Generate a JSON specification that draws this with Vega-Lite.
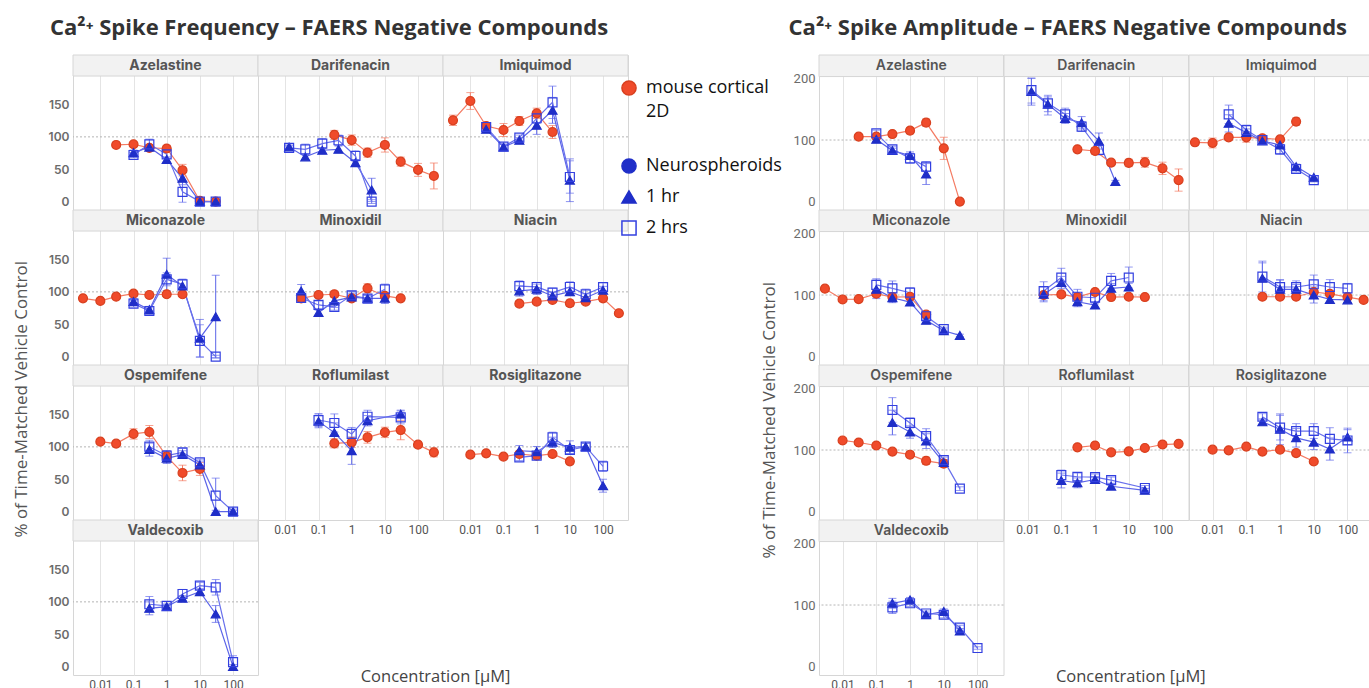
{
 "$schema": "https://vega.github.io/schema/vega-lite/v6.json",
 "background": "white",
 "padding": {"left": 13, "top": 17, "right": 0, "bottom": 0},
 "config": {
  "view": {"stroke": "#d6d6d6", "strokeWidth": 1},
  "font": "Open Sans",
  "header": {"labels": false, "title": null, "labelFontSize": 0, "labelPadding": 0, "titlePadding": 0},
  "style": {"guide-label": {"lineHeight": 24}},
  "axisY": {"labelFont": "Inter", "labelFontWeight": 600, "labelFontSize": 12, "labelColor": "#6b6b6b", "labelPadding": 4},
  "axisX": {"labelFont": "Liberation Sans Narrow, Roboto", "labelFontSize": 12, "labelColor": "#555", "gridColor": "#e4e4e4", "labelPadding": 4},
  "legend": {"orient": "none", "legendX": 547, "legendY": 24, "title": null, "symbolSize": 200, "symbolStrokeWidth": 1.5, "labelFont": "Open Sans", "labelFontSize": 18, "labelColor": "#111", "rowPadding": 10, "labelOffset": 8}
 },
 "datasets": {
  "freq": [
   {"c":"Azelastine","s":"mouse cortical 2D","x":0.03,"y":87.5,"lo":84.5,"hi":90.5},
   {"c":"Azelastine","s":"mouse cortical 2D","x":0.1,"y":88.6,"lo":84.6,"hi":92.6},
   {"c":"Azelastine","s":"mouse cortical 2D","x":0.3,"y":83,"lo":79,"hi":87},
   {"c":"Azelastine","s":"mouse cortical 2D","x":1,"y":82,"lo":77,"hi":87},
   {"c":"Azelastine","s":"mouse cortical 2D","x":3,"y":48.5,"lo":39.5,"hi":57.5},
   {"c":"Azelastine","s":"mouse cortical 2D","x":10,"y":1,"lo":-1,"hi":3},
   {"c":"Azelastine","s":"mouse cortical 2D","x":30,"y":0,"lo":-2,"hi":2},
   {"c":"Azelastine","s":"1 hr","x":0.1,"y":75.6,"lo":71.6,"hi":79.6},
   {"c":"Azelastine","s":"1 hr","x":0.3,"y":84,"lo":80,"hi":88},
   {"c":"Azelastine","s":"1 hr","x":1,"y":65,"lo":61,"hi":69},
   {"c":"Azelastine","s":"1 hr","x":3,"y":36,"lo":26,"hi":46},
   {"c":"Azelastine","s":"1 hr","x":10,"y":0,"lo":-1,"hi":1},
   {"c":"Azelastine","s":"1 hr","x":30,"y":0,"lo":-1,"hi":1},
   {"c":"Azelastine","s":"2 hrs","x":0.1,"y":72,"lo":68,"hi":76},
   {"c":"Azelastine","s":"2 hrs","x":0.3,"y":88.5,"lo":80.5,"hi":96.5},
   {"c":"Azelastine","s":"2 hrs","x":1,"y":73,"lo":67,"hi":79},
   {"c":"Azelastine","s":"2 hrs","x":3,"y":15,"lo":-1,"hi":31},
   {"c":"Azelastine","s":"2 hrs","x":10,"y":0,"lo":-2,"hi":2},
   {"c":"Azelastine","s":"2 hrs","x":30,"y":0,"lo":-2,"hi":2},
   {"c":"Darifenacin","s":"1 hr","x":0.013,"y":84.4,"lo":81.4,"hi":87.4},
   {"c":"Darifenacin","s":"1 hr","x":0.04,"y":69,"lo":65,"hi":73},
   {"c":"Darifenacin","s":"1 hr","x":0.13,"y":79.3,"lo":75.3,"hi":83.3},
   {"c":"Darifenacin","s":"1 hr","x":0.4,"y":80.8,"lo":75.8,"hi":85.8},
   {"c":"Darifenacin","s":"1 hr","x":1.3,"y":60,"lo":55,"hi":65},
   {"c":"Darifenacin","s":"1 hr","x":4,"y":18,"lo":0,"hi":36},
   {"c":"Darifenacin","s":"2 hrs","x":0.013,"y":83,"lo":80,"hi":86},
   {"c":"Darifenacin","s":"2 hrs","x":0.04,"y":80.8,"lo":72.8,"hi":88.8},
   {"c":"Darifenacin","s":"2 hrs","x":0.13,"y":89.5,"lo":81.5,"hi":97.5},
   {"c":"Darifenacin","s":"2 hrs","x":0.4,"y":94.7,"lo":86.7,"hi":102.7},
   {"c":"Darifenacin","s":"2 hrs","x":1.3,"y":70.5,"lo":62.5,"hi":78.5},
   {"c":"Darifenacin","s":"2 hrs","x":4,"y":0,"lo":-3,"hi":3},
   {"c":"Darifenacin","s":"mouse cortical 2D","x":0.3,"y":103,"lo":96,"hi":110},
   {"c":"Darifenacin","s":"mouse cortical 2D","x":1,"y":95,"lo":87,"hi":103},
   {"c":"Darifenacin","s":"mouse cortical 2D","x":3,"y":75.6,"lo":68.6,"hi":82.6},
   {"c":"Darifenacin","s":"mouse cortical 2D","x":10,"y":87.5,"lo":76.5,"hi":98.5},
   {"c":"Darifenacin","s":"mouse cortical 2D","x":30,"y":61.7,"lo":54.7,"hi":68.7},
   {"c":"Darifenacin","s":"mouse cortical 2D","x":100,"y":49,"lo":39,"hi":59},
   {"c":"Darifenacin","s":"mouse cortical 2D","x":300,"y":39.6,"lo":19.6,"hi":59.6},
   {"c":"Imiquimod","s":"mouse cortical 2D","x":0.003,"y":125.6,"lo":117.6,"hi":133.6},
   {"c":"Imiquimod","s":"mouse cortical 2D","x":0.01,"y":155.4,"lo":142.4,"hi":168.4},
   {"c":"Imiquimod","s":"mouse cortical 2D","x":0.03,"y":116.8,"lo":111.8,"hi":121.8},
   {"c":"Imiquimod","s":"mouse cortical 2D","x":0.1,"y":110.6,"lo":100.6,"hi":120.6},
   {"c":"Imiquimod","s":"mouse cortical 2D","x":0.3,"y":124.5,"lo":117.5,"hi":131.5},
   {"c":"Imiquimod","s":"mouse cortical 2D","x":1,"y":136.4,"lo":128.4,"hi":144.4},
   {"c":"Imiquimod","s":"mouse cortical 2D","x":3,"y":107.5,"lo":97.5,"hi":117.5},
   {"c":"Imiquimod","s":"1 hr","x":0.03,"y":111.7,"lo":106.7,"hi":116.7},
   {"c":"Imiquimod","s":"1 hr","x":0.1,"y":84.4,"lo":80.4,"hi":88.4},
   {"c":"Imiquimod","s":"1 hr","x":0.3,"y":94.7,"lo":90.7,"hi":98.7},
   {"c":"Imiquimod","s":"1 hr","x":1,"y":117.9,"lo":103.9,"hi":131.9},
   {"c":"Imiquimod","s":"1 hr","x":3,"y":141,"lo":121,"hi":161},
   {"c":"Imiquimod","s":"1 hr","x":10,"y":33,"lo":0,"hi":66},
   {"c":"Imiquimod","s":"2 hrs","x":0.03,"y":115.3,"lo":110.3,"hi":120.3},
   {"c":"Imiquimod","s":"2 hrs","x":0.1,"y":85,"lo":81,"hi":89},
   {"c":"Imiquimod","s":"2 hrs","x":0.3,"y":98.8,"lo":94.8,"hi":102.8},
   {"c":"Imiquimod","s":"2 hrs","x":1,"y":128.7,"lo":120.7,"hi":136.7},
   {"c":"Imiquimod","s":"2 hrs","x":3,"y":153.4,"lo":128.4,"hi":178.4},
   {"c":"Imiquimod","s":"2 hrs","x":10,"y":38,"lo":13,"hi":63},
   {"c":"Miconazole","s":"mouse cortical 2D","x":0.003,"y":90,"lo":87,"hi":93},
   {"c":"Miconazole","s":"mouse cortical 2D","x":0.01,"y":86,"lo":83,"hi":89},
   {"c":"Miconazole","s":"mouse cortical 2D","x":0.03,"y":92.6,"lo":89.6,"hi":95.6},
   {"c":"Miconazole","s":"mouse cortical 2D","x":0.1,"y":97.2,"lo":93.2,"hi":101.2},
   {"c":"Miconazole","s":"mouse cortical 2D","x":0.3,"y":95.2,"lo":92.2,"hi":98.2},
   {"c":"Miconazole","s":"mouse cortical 2D","x":1,"y":96.3,"lo":93.3,"hi":99.3},
   {"c":"Miconazole","s":"mouse cortical 2D","x":3,"y":96.3,"lo":93.3,"hi":99.3},
   {"c":"Miconazole","s":"1 hr","x":0.1,"y":84.9,"lo":79.9,"hi":89.9},
   {"c":"Miconazole","s":"1 hr","x":0.3,"y":72.5,"lo":67.5,"hi":77.5},
   {"c":"Miconazole","s":"1 hr","x":1,"y":127,"lo":102,"hi":152},
   {"c":"Miconazole","s":"1 hr","x":3,"y":109,"lo":99,"hi":119},
   {"c":"Miconazole","s":"1 hr","x":10,"y":28.4,"lo":-0.6,"hi":57.4},
   {"c":"Miconazole","s":"1 hr","x":30,"y":61.7,"lo":-2,"hi":125.7},
   {"c":"Miconazole","s":"2 hrs","x":0.1,"y":81.8,"lo":76.8,"hi":86.8},
   {"c":"Miconazole","s":"2 hrs","x":0.3,"y":70.5,"lo":65.5,"hi":75.5},
   {"c":"Miconazole","s":"2 hrs","x":1,"y":119.4,"lo":109.4,"hi":129.4},
   {"c":"Miconazole","s":"2 hrs","x":3,"y":111.7,"lo":103.7,"hi":119.7},
   {"c":"Miconazole","s":"2 hrs","x":10,"y":24.2,"lo":-0.8,"hi":49.2},
   {"c":"Miconazole","s":"2 hrs","x":30,"y":0,"lo":-2,"hi":2},
   {"c":"Minoxidil","s":"mouse cortical 2D","x":0.03,"y":90,"lo":87,"hi":93},
   {"c":"Minoxidil","s":"mouse cortical 2D","x":0.1,"y":95.2,"lo":91.2,"hi":99.2},
   {"c":"Minoxidil","s":"mouse cortical 2D","x":0.3,"y":96.3,"lo":91.3,"hi":101.3},
   {"c":"Minoxidil","s":"mouse cortical 2D","x":1,"y":90,"lo":86,"hi":94},
   {"c":"Minoxidil","s":"mouse cortical 2D","x":3,"y":105.5,"lo":98.5,"hi":112.5},
   {"c":"Minoxidil","s":"mouse cortical 2D","x":10,"y":93.7,"lo":88.7,"hi":98.7},
   {"c":"Minoxidil","s":"mouse cortical 2D","x":30,"y":90,"lo":87,"hi":93},
   {"c":"Minoxidil","s":"1 hr","x":0.03,"y":101.4,"lo":91.4,"hi":111.4},
   {"c":"Minoxidil","s":"1 hr","x":0.1,"y":68,"lo":64,"hi":72},
   {"c":"Minoxidil","s":"1 hr","x":0.3,"y":86,"lo":76,"hi":96},
   {"c":"Minoxidil","s":"1 hr","x":1,"y":92,"lo":86,"hi":98},
   {"c":"Minoxidil","s":"1 hr","x":3,"y":90,"lo":85,"hi":95},
   {"c":"Minoxidil","s":"1 hr","x":10,"y":90,"lo":82,"hi":98},
   {"c":"Minoxidil","s":"2 hrs","x":0.03,"y":90.6,"lo":85.6,"hi":95.6},
   {"c":"Minoxidil","s":"2 hrs","x":0.1,"y":79.8,"lo":73.8,"hi":85.8},
   {"c":"Minoxidil","s":"2 hrs","x":0.3,"y":76.7,"lo":71.7,"hi":81.7},
   {"c":"Minoxidil","s":"2 hrs","x":1,"y":94.7,"lo":88.7,"hi":100.7},
   {"c":"Minoxidil","s":"2 hrs","x":3,"y":89.5,"lo":84.5,"hi":94.5},
   {"c":"Minoxidil","s":"2 hrs","x":10,"y":104,"lo":96,"hi":112},
   {"c":"Niacin","s":"mouse cortical 2D","x":0.3,"y":81.8,"lo":77.8,"hi":85.8},
   {"c":"Niacin","s":"mouse cortical 2D","x":1,"y":84.9,"lo":80.9,"hi":88.9},
   {"c":"Niacin","s":"mouse cortical 2D","x":3,"y":87.5,"lo":83.5,"hi":91.5},
   {"c":"Niacin","s":"mouse cortical 2D","x":10,"y":82.4,"lo":77.4,"hi":87.4},
   {"c":"Niacin","s":"mouse cortical 2D","x":30,"y":84.9,"lo":80.9,"hi":88.9},
   {"c":"Niacin","s":"mouse cortical 2D","x":100,"y":90,"lo":85,"hi":95},
   {"c":"Niacin","s":"mouse cortical 2D","x":300,"y":67,"lo":64,"hi":70},
   {"c":"Niacin","s":"1 hr","x":0.3,"y":101.4,"lo":93.4,"hi":109.4},
   {"c":"Niacin","s":"1 hr","x":1,"y":104,"lo":96,"hi":112},
   {"c":"Niacin","s":"1 hr","x":3,"y":93.7,"lo":88.7,"hi":98.7},
   {"c":"Niacin","s":"1 hr","x":10,"y":100.3,"lo":94.3,"hi":106.3},
   {"c":"Niacin","s":"1 hr","x":30,"y":91,"lo":85,"hi":97},
   {"c":"Niacin","s":"1 hr","x":100,"y":102.5,"lo":96.5,"hi":108.5},
   {"c":"Niacin","s":"2 hrs","x":0.3,"y":109,"lo":101,"hi":117},
   {"c":"Niacin","s":"2 hrs","x":1,"y":107.6,"lo":100.6,"hi":114.6},
   {"c":"Niacin","s":"2 hrs","x":3,"y":98.8,"lo":91.8,"hi":105.8},
   {"c":"Niacin","s":"2 hrs","x":10,"y":107.6,"lo":99.6,"hi":115.6},
   {"c":"Niacin","s":"2 hrs","x":30,"y":96.3,"lo":88.3,"hi":104.3},
   {"c":"Niacin","s":"2 hrs","x":100,"y":107.6,"lo":101.6,"hi":113.6},
   {"c":"Ospemifene","s":"mouse cortical 2D","x":0.01,"y":108,"lo":105,"hi":111},
   {"c":"Ospemifene","s":"mouse cortical 2D","x":0.03,"y":105,"lo":102,"hi":108},
   {"c":"Ospemifene","s":"mouse cortical 2D","x":0.1,"y":120,"lo":112,"hi":128},
   {"c":"Ospemifene","s":"mouse cortical 2D","x":0.3,"y":123,"lo":113,"hi":133},
   {"c":"Ospemifene","s":"mouse cortical 2D","x":1,"y":85.3,"lo":77.3,"hi":93.3},
   {"c":"Ospemifene","s":"mouse cortical 2D","x":3,"y":59.7,"lo":47.7,"hi":71.7},
   {"c":"Ospemifene","s":"mouse cortical 2D","x":10,"y":65.9,"lo":55.9,"hi":75.9},
   {"c":"Ospemifene","s":"1 hr","x":0.3,"y":95.7,"lo":85.7,"hi":105.7},
   {"c":"Ospemifene","s":"1 hr","x":1,"y":82.3,"lo":74.3,"hi":90.3},
   {"c":"Ospemifene","s":"1 hr","x":3,"y":88,"lo":82,"hi":94},
   {"c":"Ospemifene","s":"1 hr","x":10,"y":72,"lo":66,"hi":78},
   {"c":"Ospemifene","s":"1 hr","x":30,"y":0,"lo":-2,"hi":2},
   {"c":"Ospemifene","s":"1 hr","x":100,"y":0,"lo":-2,"hi":2},
   {"c":"Ospemifene","s":"2 hrs","x":0.3,"y":100.3,"lo":90.3,"hi":110.3},
   {"c":"Ospemifene","s":"2 hrs","x":1,"y":86.4,"lo":78.4,"hi":94.4},
   {"c":"Ospemifene","s":"2 hrs","x":3,"y":91.5,"lo":85.5,"hi":97.5},
   {"c":"Ospemifene","s":"2 hrs","x":10,"y":76,"lo":71,"hi":81},
   {"c":"Ospemifene","s":"2 hrs","x":30,"y":24.7,"lo":-2.3,"hi":51.7},
   {"c":"Ospemifene","s":"2 hrs","x":100,"y":0,"lo":-4,"hi":4},
   {"c":"Roflumilast","s":"mouse cortical 2D","x":0.3,"y":105.4,"lo":98.4,"hi":112.4},
   {"c":"Roflumilast","s":"mouse cortical 2D","x":1,"y":107,"lo":99,"hi":115},
   {"c":"Roflumilast","s":"mouse cortical 2D","x":3,"y":114.7,"lo":105.7,"hi":123.7},
   {"c":"Roflumilast","s":"mouse cortical 2D","x":10,"y":122.4,"lo":114.4,"hi":130.4},
   {"c":"Roflumilast","s":"mouse cortical 2D","x":30,"y":126,"lo":111,"hi":141},
   {"c":"Roflumilast","s":"mouse cortical 2D","x":100,"y":103.4,"lo":99.4,"hi":107.4},
   {"c":"Roflumilast","s":"mouse cortical 2D","x":300,"y":91.5,"lo":84.5,"hi":98.5},
   {"c":"Roflumilast","s":"1 hr","x":0.1,"y":139.4,"lo":129.4,"hi":149.4},
   {"c":"Roflumilast","s":"1 hr","x":0.3,"y":122,"lo":107,"hi":137},
   {"c":"Roflumilast","s":"1 hr","x":1,"y":94,"lo":73,"hi":115},
   {"c":"Roflumilast","s":"1 hr","x":3,"y":140.4,"lo":132.4,"hi":148.4},
   {"c":"Roflumilast","s":"1 hr","x":30,"y":150.7,"lo":144.7,"hi":156.7},
   {"c":"Roflumilast","s":"2 hrs","x":0.1,"y":141.5,"lo":131.5,"hi":151.5},
   {"c":"Roflumilast","s":"2 hrs","x":0.3,"y":136.9,"lo":122.9,"hi":150.9},
   {"c":"Roflumilast","s":"2 hrs","x":1,"y":120,"lo":110,"hi":130},
   {"c":"Roflumilast","s":"2 hrs","x":3,"y":146.6,"lo":136.6,"hi":156.6},
   {"c":"Roflumilast","s":"2 hrs","x":30,"y":145.5,"lo":135.5,"hi":155.5},
   {"c":"Rosiglitazone","s":"mouse cortical 2D","x":0.01,"y":88,"lo":85,"hi":91},
   {"c":"Rosiglitazone","s":"mouse cortical 2D","x":0.03,"y":90,"lo":87,"hi":93},
   {"c":"Rosiglitazone","s":"mouse cortical 2D","x":0.1,"y":84.9,"lo":81.9,"hi":87.9},
   {"c":"Rosiglitazone","s":"mouse cortical 2D","x":0.3,"y":89,"lo":85,"hi":93},
   {"c":"Rosiglitazone","s":"mouse cortical 2D","x":1,"y":86.4,"lo":82.4,"hi":90.4},
   {"c":"Rosiglitazone","s":"mouse cortical 2D","x":3,"y":89,"lo":85,"hi":93},
   {"c":"Rosiglitazone","s":"mouse cortical 2D","x":10,"y":77.6,"lo":73.6,"hi":81.6},
   {"c":"Rosiglitazone","s":"1 hr","x":0.3,"y":94,"lo":86,"hi":102},
   {"c":"Rosiglitazone","s":"1 hr","x":1,"y":92.6,"lo":84.6,"hi":100.6},
   {"c":"Rosiglitazone","s":"1 hr","x":3,"y":107,"lo":99,"hi":115},
   {"c":"Rosiglitazone","s":"1 hr","x":10,"y":99.3,"lo":89.3,"hi":109.3},
   {"c":"Rosiglitazone","s":"1 hr","x":30,"y":100.3,"lo":95.3,"hi":105.3},
   {"c":"Rosiglitazone","s":"1 hr","x":100,"y":40,"lo":30,"hi":50},
   {"c":"Rosiglitazone","s":"2 hrs","x":0.3,"y":83.8,"lo":78.8,"hi":88.8},
   {"c":"Rosiglitazone","s":"2 hrs","x":1,"y":86.4,"lo":81.4,"hi":91.4},
   {"c":"Rosiglitazone","s":"2 hrs","x":3,"y":114.7,"lo":106.7,"hi":122.7},
   {"c":"Rosiglitazone","s":"2 hrs","x":10,"y":95.2,"lo":89.2,"hi":101.2},
   {"c":"Rosiglitazone","s":"2 hrs","x":30,"y":100.3,"lo":95.3,"hi":105.3},
   {"c":"Rosiglitazone","s":"2 hrs","x":100,"y":70,"lo":62,"hi":78},
   {"c":"Valdecoxib","s":"1 hr","x":0.3,"y":90,"lo":80,"hi":100},
   {"c":"Valdecoxib","s":"1 hr","x":1,"y":92.6,"lo":89.6,"hi":95.6},
   {"c":"Valdecoxib","s":"1 hr","x":3,"y":105.5,"lo":101.5,"hi":109.5},
   {"c":"Valdecoxib","s":"1 hr","x":10,"y":115.7,"lo":111.7,"hi":119.7},
   {"c":"Valdecoxib","s":"1 hr","x":30,"y":81.3,"lo":68.3,"hi":94.3},
   {"c":"Valdecoxib","s":"1 hr","x":100,"y":0,"lo":-3,"hi":3},
   {"c":"Valdecoxib","s":"2 hrs","x":0.3,"y":96.3,"lo":84.3,"hi":108.3},
   {"c":"Valdecoxib","s":"2 hrs","x":1,"y":93.7,"lo":90.7,"hi":96.7},
   {"c":"Valdecoxib","s":"2 hrs","x":3,"y":112.2,"lo":105.2,"hi":119.2},
   {"c":"Valdecoxib","s":"2 hrs","x":10,"y":125,"lo":120,"hi":130},
   {"c":"Valdecoxib","s":"2 hrs","x":30,"y":122.5,"lo":110.5,"hi":134.5},
   {"c":"Valdecoxib","s":"2 hrs","x":100,"y":6.8,"lo":-3.2,"hi":16.8}
  ],
  "amp": [
   {"c":"Azelastine","s":"mouse cortical 2D","x":0.03,"y":105.5,"lo":102.5,"hi":108.5},
   {"c":"Azelastine","s":"mouse cortical 2D","x":0.1,"y":105.5,"lo":102.5,"hi":108.5},
   {"c":"Azelastine","s":"mouse cortical 2D","x":0.3,"y":109.7,"lo":105.7,"hi":113.7},
   {"c":"Azelastine","s":"mouse cortical 2D","x":1,"y":115.2,"lo":110.2,"hi":120.2},
   {"c":"Azelastine","s":"mouse cortical 2D","x":3,"y":128.2,"lo":122.2,"hi":134.2},
   {"c":"Azelastine","s":"mouse cortical 2D","x":10,"y":86.5,"lo":68.5,"hi":104.5},
   {"c":"Azelastine","s":"mouse cortical 2D","x":30,"y":0,"lo":-2,"hi":2},
   {"c":"Azelastine","s":"1 hr","x":0.1,"y":101,"lo":97,"hi":105},
   {"c":"Azelastine","s":"1 hr","x":0.3,"y":82.8,"lo":78.8,"hi":86.8},
   {"c":"Azelastine","s":"1 hr","x":1,"y":74.7,"lo":68.7,"hi":80.7},
   {"c":"Azelastine","s":"1 hr","x":3,"y":44.8,"lo":27.8,"hi":61.8},
   {"c":"Azelastine","s":"2 hrs","x":0.1,"y":110.9,"lo":105.9,"hi":115.9},
   {"c":"Azelastine","s":"2 hrs","x":0.3,"y":84.9,"lo":79.9,"hi":89.9},
   {"c":"Azelastine","s":"2 hrs","x":1,"y":70.3,"lo":62.3,"hi":78.3},
   {"c":"Azelastine","s":"2 hrs","x":3,"y":56.8,"lo":48.8,"hi":64.8},
   {"c":"Darifenacin","s":"1 hr","x":0.013,"y":178.6,"lo":156.6,"hi":200.6},
   {"c":"Darifenacin","s":"1 hr","x":0.04,"y":158,"lo":146,"hi":170},
   {"c":"Darifenacin","s":"1 hr","x":0.13,"y":135,"lo":127,"hi":143},
   {"c":"Darifenacin","s":"1 hr","x":0.4,"y":128,"lo":118,"hi":138},
   {"c":"Darifenacin","s":"1 hr","x":1.3,"y":98.4,"lo":85.4,"hi":111.4},
   {"c":"Darifenacin","s":"1 hr","x":4,"y":32.5,"lo":30.5,"hi":34.5},
   {"c":"Darifenacin","s":"2 hrs","x":0.013,"y":181,"lo":160,"hi":200},
   {"c":"Darifenacin","s":"2 hrs","x":0.04,"y":159.6,"lo":140.6,"hi":172.6},
   {"c":"Darifenacin","s":"2 hrs","x":0.13,"y":141.7,"lo":131.7,"hi":151.7},
   {"c":"Darifenacin","s":"2 hrs","x":0.4,"y":121.8,"lo":113.8,"hi":129.8},
   {"c":"Darifenacin","s":"2 hrs","x":1.3,"y":83.8,"lo":75.8,"hi":91.8},
   {"c":"Darifenacin","s":"mouse cortical 2D","x":0.3,"y":84.9,"lo":81.9,"hi":87.9},
   {"c":"Darifenacin","s":"mouse cortical 2D","x":1,"y":82.2,"lo":77.2,"hi":87.2},
   {"c":"Darifenacin","s":"mouse cortical 2D","x":3,"y":63.3,"lo":58.3,"hi":68.3},
   {"c":"Darifenacin","s":"mouse cortical 2D","x":10,"y":62.8,"lo":56.8,"hi":68.8},
   {"c":"Darifenacin","s":"mouse cortical 2D","x":30,"y":63.8,"lo":55.8,"hi":71.8},
   {"c":"Darifenacin","s":"mouse cortical 2D","x":100,"y":54,"lo":44,"hi":64},
   {"c":"Darifenacin","s":"mouse cortical 2D","x":300,"y":35,"lo":17,"hi":53},
   {"c":"Imiquimod","s":"mouse cortical 2D","x":0.003,"y":96.3,"lo":92.3,"hi":100.3},
   {"c":"Imiquimod","s":"mouse cortical 2D","x":0.01,"y":95.2,"lo":87.2,"hi":103.2},
   {"c":"Imiquimod","s":"mouse cortical 2D","x":0.03,"y":104.4,"lo":99.4,"hi":109.4},
   {"c":"Imiquimod","s":"mouse cortical 2D","x":0.1,"y":104.4,"lo":96.4,"hi":112.4},
   {"c":"Imiquimod","s":"mouse cortical 2D","x":0.3,"y":102.8,"lo":97.8,"hi":107.8},
   {"c":"Imiquimod","s":"mouse cortical 2D","x":1,"y":101,"lo":98,"hi":104},
   {"c":"Imiquimod","s":"mouse cortical 2D","x":3,"y":129.9,"lo":123.9,"hi":135.9},
   {"c":"Imiquimod","s":"1 hr","x":0.03,"y":127,"lo":113,"hi":141},
   {"c":"Imiquimod","s":"1 hr","x":0.1,"y":112,"lo":106,"hi":118},
   {"c":"Imiquimod","s":"1 hr","x":0.3,"y":98.4,"lo":94.4,"hi":102.4},
   {"c":"Imiquimod","s":"1 hr","x":1,"y":91.9,"lo":86.9,"hi":96.9},
   {"c":"Imiquimod","s":"1 hr","x":3,"y":56.8,"lo":52.8,"hi":60.8},
   {"c":"Imiquimod","s":"1 hr","x":10,"y":39.4,"lo":36.4,"hi":42.4},
   {"c":"Imiquimod","s":"2 hrs","x":0.03,"y":141.7,"lo":126.7,"hi":156.7},
   {"c":"Imiquimod","s":"2 hrs","x":0.1,"y":116.2,"lo":108.2,"hi":124.2},
   {"c":"Imiquimod","s":"2 hrs","x":0.3,"y":100,"lo":95,"hi":105},
   {"c":"Imiquimod","s":"2 hrs","x":1,"y":84.9,"lo":76.9,"hi":92.9},
   {"c":"Imiquimod","s":"2 hrs","x":3,"y":53,"lo":48,"hi":58},
   {"c":"Imiquimod","s":"2 hrs","x":10,"y":35,"lo":32,"hi":38},
   {"c":"Miconazole","s":"mouse cortical 2D","x":0.003,"y":110.3,"lo":107.3,"hi":113.3},
   {"c":"Miconazole","s":"mouse cortical 2D","x":0.01,"y":92.8,"lo":89.8,"hi":95.8},
   {"c":"Miconazole","s":"mouse cortical 2D","x":0.03,"y":93.4,"lo":90.4,"hi":96.4},
   {"c":"Miconazole","s":"mouse cortical 2D","x":0.1,"y":102,"lo":97,"hi":107},
   {"c":"Miconazole","s":"mouse cortical 2D","x":0.3,"y":96.7,"lo":92.7,"hi":100.7},
   {"c":"Miconazole","s":"mouse cortical 2D","x":1,"y":97.2,"lo":93.2,"hi":101.2},
   {"c":"Miconazole","s":"mouse cortical 2D","x":3,"y":68.2,"lo":63.2,"hi":73.2},
   {"c":"Miconazole","s":"1 hr","x":0.1,"y":109.2,"lo":94.2,"hi":124.2},
   {"c":"Miconazole","s":"1 hr","x":0.3,"y":95.6,"lo":87.6,"hi":103.6},
   {"c":"Miconazole","s":"1 hr","x":1,"y":88.5,"lo":83.5,"hi":93.5},
   {"c":"Miconazole","s":"1 hr","x":3,"y":59,"lo":55,"hi":63},
   {"c":"Miconazole","s":"1 hr","x":10,"y":42,"lo":39,"hi":45},
   {"c":"Miconazole","s":"1 hr","x":30,"y":34.4,"lo":32.4,"hi":36.4},
   {"c":"Miconazole","s":"2 hrs","x":0.1,"y":116.4,"lo":106.4,"hi":126.4},
   {"c":"Miconazole","s":"2 hrs","x":0.3,"y":110.8,"lo":98.8,"hi":122.8},
   {"c":"Miconazole","s":"2 hrs","x":1,"y":103.8,"lo":95.8,"hi":111.8},
   {"c":"Miconazole","s":"2 hrs","x":3,"y":65.6,"lo":60.6,"hi":70.6},
   {"c":"Miconazole","s":"2 hrs","x":10,"y":44.8,"lo":41.8,"hi":47.8},
   {"c":"Minoxidil","s":"mouse cortical 2D","x":0.03,"y":100,"lo":96,"hi":104},
   {"c":"Minoxidil","s":"mouse cortical 2D","x":0.1,"y":101,"lo":97,"hi":105},
   {"c":"Minoxidil","s":"mouse cortical 2D","x":0.3,"y":96.7,"lo":92.7,"hi":100.7},
   {"c":"Minoxidil","s":"mouse cortical 2D","x":1,"y":104.9,"lo":100.9,"hi":108.9},
   {"c":"Minoxidil","s":"mouse cortical 2D","x":3,"y":96.7,"lo":93.7,"hi":99.7},
   {"c":"Minoxidil","s":"mouse cortical 2D","x":10,"y":97.2,"lo":94.2,"hi":100.2},
   {"c":"Minoxidil","s":"mouse cortical 2D","x":30,"y":96.7,"lo":93.7,"hi":99.7},
   {"c":"Minoxidil","s":"1 hr","x":0.03,"y":101,"lo":89,"hi":113},
   {"c":"Minoxidil","s":"1 hr","x":0.1,"y":120.2,"lo":110.2,"hi":130.2},
   {"c":"Minoxidil","s":"1 hr","x":0.3,"y":89,"lo":81,"hi":97},
   {"c":"Minoxidil","s":"1 hr","x":1,"y":83.6,"lo":78.6,"hi":88.6},
   {"c":"Minoxidil","s":"1 hr","x":3,"y":110.8,"lo":102.8,"hi":118.8},
   {"c":"Minoxidil","s":"1 hr","x":10,"y":113,"lo":107,"hi":119},
   {"c":"Minoxidil","s":"2 hrs","x":0.03,"y":106.5,"lo":91.5,"hi":121.5},
   {"c":"Minoxidil","s":"2 hrs","x":0.1,"y":128.4,"lo":113.4,"hi":143.4},
   {"c":"Minoxidil","s":"2 hrs","x":0.3,"y":97.2,"lo":85.2,"hi":109.2},
   {"c":"Minoxidil","s":"2 hrs","x":1,"y":95.6,"lo":85.6,"hi":105.6},
   {"c":"Minoxidil","s":"2 hrs","x":3,"y":123,"lo":111,"hi":135},
   {"c":"Minoxidil","s":"2 hrs","x":10,"y":128.4,"lo":111.4,"hi":145.4},
   {"c":"Niacin","s":"mouse cortical 2D","x":0.3,"y":97.2,"lo":93.2,"hi":101.2},
   {"c":"Niacin","s":"mouse cortical 2D","x":1,"y":97.2,"lo":93.2,"hi":101.2},
   {"c":"Niacin","s":"mouse cortical 2D","x":3,"y":97.2,"lo":93.2,"hi":101.2},
   {"c":"Niacin","s":"mouse cortical 2D","x":10,"y":104.9,"lo":99.9,"hi":109.9},
   {"c":"Niacin","s":"mouse cortical 2D","x":30,"y":102,"lo":97,"hi":107},
   {"c":"Niacin","s":"mouse cortical 2D","x":100,"y":96.7,"lo":92.7,"hi":100.7},
   {"c":"Niacin","s":"mouse cortical 2D","x":300,"y":92,"lo":88,"hi":96},
   {"c":"Niacin","s":"1 hr","x":0.3,"y":127.2,"lo":102.2,"hi":152.2},
   {"c":"Niacin","s":"1 hr","x":1,"y":109.2,"lo":94.2,"hi":124.2},
   {"c":"Niacin","s":"1 hr","x":3,"y":109.2,"lo":101.2,"hi":117.2},
   {"c":"Niacin","s":"1 hr","x":10,"y":100,"lo":87,"hi":113},
   {"c":"Niacin","s":"1 hr","x":30,"y":92.8,"lo":87.8,"hi":97.8},
   {"c":"Niacin","s":"1 hr","x":100,"y":92,"lo":87,"hi":97},
   {"c":"Niacin","s":"2 hrs","x":0.3,"y":130,"lo":105,"hi":155},
   {"c":"Niacin","s":"2 hrs","x":1,"y":113,"lo":101,"hi":125},
   {"c":"Niacin","s":"2 hrs","x":3,"y":113,"lo":103,"hi":123},
   {"c":"Niacin","s":"2 hrs","x":10,"y":117.4,"lo":102.4,"hi":132.4},
   {"c":"Niacin","s":"2 hrs","x":30,"y":113,"lo":101,"hi":125},
   {"c":"Niacin","s":"2 hrs","x":100,"y":110.8,"lo":102.8,"hi":118.8},
   {"c":"Ospemifene","s":"mouse cortical 2D","x":0.01,"y":115.5,"lo":112.5,"hi":118.5},
   {"c":"Ospemifene","s":"mouse cortical 2D","x":0.03,"y":112.2,"lo":109.2,"hi":115.2},
   {"c":"Ospemifene","s":"mouse cortical 2D","x":0.1,"y":107.3,"lo":104.3,"hi":110.3},
   {"c":"Ospemifene","s":"mouse cortical 2D","x":0.3,"y":97.4,"lo":93.4,"hi":101.4},
   {"c":"Ospemifene","s":"mouse cortical 2D","x":1,"y":92.4,"lo":88.4,"hi":96.4},
   {"c":"Ospemifene","s":"mouse cortical 2D","x":3,"y":82.5,"lo":76.5,"hi":88.5},
   {"c":"Ospemifene","s":"mouse cortical 2D","x":10,"y":78,"lo":72,"hi":84},
   {"c":"Ospemifene","s":"1 hr","x":0.3,"y":144.6,"lo":124.6,"hi":164.6},
   {"c":"Ospemifene","s":"1 hr","x":1,"y":129.2,"lo":119.2,"hi":139.2},
   {"c":"Ospemifene","s":"1 hr","x":3,"y":114.4,"lo":102.4,"hi":126.4},
   {"c":"Ospemifene","s":"1 hr","x":10,"y":79.7,"lo":74.7,"hi":84.7},
   {"c":"Ospemifene","s":"2 hrs","x":0.3,"y":165,"lo":145,"hi":185},
   {"c":"Ospemifene","s":"2 hrs","x":1,"y":144,"lo":136,"hi":152},
   {"c":"Ospemifene","s":"2 hrs","x":3,"y":122.6,"lo":110.6,"hi":134.6},
   {"c":"Ospemifene","s":"2 hrs","x":10,"y":83.5,"lo":78.5,"hi":88.5},
   {"c":"Ospemifene","s":"2 hrs","x":30,"y":37.3,"lo":34.3,"hi":40.3},
   {"c":"Roflumilast","s":"mouse cortical 2D","x":0.3,"y":104.4,"lo":100.4,"hi":108.4},
   {"c":"Roflumilast","s":"mouse cortical 2D","x":1,"y":107.3,"lo":103.3,"hi":111.3},
   {"c":"Roflumilast","s":"mouse cortical 2D","x":3,"y":96.2,"lo":92.2,"hi":100.2},
   {"c":"Roflumilast","s":"mouse cortical 2D","x":10,"y":97.9,"lo":93.9,"hi":101.9},
   {"c":"Roflumilast","s":"mouse cortical 2D","x":30,"y":103.3,"lo":99.3,"hi":107.3},
   {"c":"Roflumilast","s":"mouse cortical 2D","x":100,"y":108.9,"lo":104.9,"hi":112.9},
   {"c":"Roflumilast","s":"mouse cortical 2D","x":300,"y":110,"lo":107,"hi":113},
   {"c":"Roflumilast","s":"1 hr","x":0.1,"y":50.5,"lo":38.5,"hi":62.5},
   {"c":"Roflumilast","s":"1 hr","x":0.3,"y":46.7,"lo":38.7,"hi":54.7},
   {"c":"Roflumilast","s":"1 hr","x":1,"y":52.1,"lo":47.1,"hi":57.1},
   {"c":"Roflumilast","s":"1 hr","x":3,"y":41.2,"lo":37.2,"hi":45.2},
   {"c":"Roflumilast","s":"1 hr","x":30,"y":34.6,"lo":31.6,"hi":37.6},
   {"c":"Roflumilast","s":"2 hrs","x":0.1,"y":59.4,"lo":51.4,"hi":67.4},
   {"c":"Roflumilast","s":"2 hrs","x":0.3,"y":56.6,"lo":50.6,"hi":62.6},
   {"c":"Roflumilast","s":"2 hrs","x":1,"y":56,"lo":51,"hi":61},
   {"c":"Roflumilast","s":"2 hrs","x":3,"y":51.1,"lo":46.1,"hi":56.1},
   {"c":"Roflumilast","s":"2 hrs","x":30,"y":38.4,"lo":34.4,"hi":42.4},
   {"c":"Rosiglitazone","s":"mouse cortical 2D","x":0.01,"y":100.6,"lo":97.6,"hi":103.6},
   {"c":"Rosiglitazone","s":"mouse cortical 2D","x":0.03,"y":99.5,"lo":96.5,"hi":102.5},
   {"c":"Rosiglitazone","s":"mouse cortical 2D","x":0.1,"y":105.6,"lo":102.6,"hi":108.6},
   {"c":"Rosiglitazone","s":"mouse cortical 2D","x":0.3,"y":97.4,"lo":93.4,"hi":101.4},
   {"c":"Rosiglitazone","s":"mouse cortical 2D","x":1,"y":100.6,"lo":97.6,"hi":103.6},
   {"c":"Rosiglitazone","s":"mouse cortical 2D","x":3,"y":95,"lo":91,"hi":99},
   {"c":"Rosiglitazone","s":"mouse cortical 2D","x":10,"y":81.3,"lo":78.3,"hi":84.3},
   {"c":"Rosiglitazone","s":"1 hr","x":0.3,"y":145.7,"lo":140.7,"hi":150.7},
   {"c":"Rosiglitazone","s":"1 hr","x":1,"y":133.6,"lo":108.6,"hi":158.6},
   {"c":"Rosiglitazone","s":"1 hr","x":3,"y":119.8,"lo":104.8,"hi":134.8},
   {"c":"Rosiglitazone","s":"1 hr","x":10,"y":112.7,"lo":100.7,"hi":124.7},
   {"c":"Rosiglitazone","s":"1 hr","x":30,"y":101.6,"lo":83.6,"hi":119.6},
   {"c":"Rosiglitazone","s":"1 hr","x":100,"y":121,"lo":109,"hi":133},
   {"c":"Rosiglitazone","s":"2 hrs","x":0.3,"y":154,"lo":149,"hi":159},
   {"c":"Rosiglitazone","s":"2 hrs","x":1,"y":136.3,"lo":116.3,"hi":156.3},
   {"c":"Rosiglitazone","s":"2 hrs","x":3,"y":130.8,"lo":118.8,"hi":142.8},
   {"c":"Rosiglitazone","s":"2 hrs","x":10,"y":130.8,"lo":118.8,"hi":142.8},
   {"c":"Rosiglitazone","s":"2 hrs","x":30,"y":118.2,"lo":100.2,"hi":136.2},
   {"c":"Rosiglitazone","s":"2 hrs","x":100,"y":115.5,"lo":95.5,"hi":135.5},
   {"c":"Valdecoxib","s":"1 hr","x":0.3,"y":102.8,"lo":94.8,"hi":110.8},
   {"c":"Valdecoxib","s":"1 hr","x":1,"y":108.3,"lo":104.3,"hi":112.3},
   {"c":"Valdecoxib","s":"1 hr","x":3,"y":84.2,"lo":81.2,"hi":87.2},
   {"c":"Valdecoxib","s":"1 hr","x":10,"y":89.6,"lo":85.6,"hi":93.6},
   {"c":"Valdecoxib","s":"1 hr","x":30,"y":57.8,"lo":53.8,"hi":61.8},
   {"c":"Valdecoxib","s":"2 hrs","x":0.3,"y":96.2,"lo":86.2,"hi":106.2},
   {"c":"Valdecoxib","s":"2 hrs","x":1,"y":102.8,"lo":97.8,"hi":107.8},
   {"c":"Valdecoxib","s":"2 hrs","x":3,"y":86.3,"lo":82.3,"hi":90.3},
   {"c":"Valdecoxib","s":"2 hrs","x":10,"y":84.2,"lo":79.2,"hi":89.2},
   {"c":"Valdecoxib","s":"2 hrs","x":30,"y":63.2,"lo":59.2,"hi":67.2},
   {"c":"Valdecoxib","s":"2 hrs","x":100,"y":30.2,"lo":28.2,"hi":32.2}
  ]
 },
 "spacing": 132,
 "resolve": {"scale": {"x": "independent", "y": "independent"}},
 "hconcat": [
  {
   "title": {"text": "Ca²⁺ Spike Frequency – FAERS Negative Compounds", "font": "Open Sans", "fontSize": 22, "fontWeight": "bold", "color": "#333", "anchor": "middle", "offset": 14, "dx": 8},
   "vconcat": [{
    "title": {"text": "% of Time-Matched Vehicle Control", "orient": "left", "anchor": "middle", "font": "Open Sans", "fontSize": 17, "fontWeight": "normal", "color": "#555", "offset": 17, "dx": -27},
    "vconcat": [{
     "data": {"name": "freq"},
     "title": {"text": "Concentration [µM]", "orient": "bottom", "anchor": "middle", "offset": -22, "dx": 97, "font": "Open Sans", "fontSize": 16.5, "fontWeight": "normal", "color": "#444"},
     "columns": 3,
     "spacing": 0,
     "bounds": "flush",
     "resolve": {"axis": {"x": "independent"}},
     "facet": {"field": "c", "type": "nominal", "header": null},
     "spec": {
      "width": 185,
      "height": 155,
      "layer": [
       {
        "transform": [{"aggregate": [{"op": "count", "as": "n"}], "groupby": ["c"]}],
        "mark": {"type": "rule", "strokeDash": [2, 2], "color": "#b5b5b5", "strokeWidth": 1},
        "encoding": {"y": {"datum": 100, "type": "quantitative"}}
       },
       {
        "mark": {"type": "errorbar", "ticks": true, "size": 8, "thickness": 1},
        "encoding": {
         "x": {"field": "x", "type": "quantitative", "scale": {"type": "log", "domain": [0.0015, 565], "nice": false}, "axis": {"values": [0.01, 0.1, 1, 10, 100], "format": "~g", "title": null, "grid": true, "ticks": false, "domain": false}},
         "y": {"field": "lo", "type": "quantitative", "scale": {"domain": [-13, 226.5], "nice": false, "zero": false}, "axis": {"values": [0, 50, 100, 150], "title": null, "grid": false, "ticks": false, "domain": false}},
         "y2": {"field": "hi"},
         "color": {"field": "s", "type": "nominal", "scale": {"domain": ["mouse cortical 2D", "1 hr", "2 hrs"], "range": ["#f47b63", "#5b64e8", "#6870ec"]}, "legend": null}
        }
       },
       {
        "mark": {"type": "line", "strokeWidth": 1.2},
        "encoding": {
         "x": {"field": "x", "type": "quantitative"},
         "y": {"field": "y", "type": "quantitative"},
         "color": {"field": "s", "type": "nominal", "legend": null}
        }
       },
       {
        "mark": {"type": "point", "filled": true, "size": 80, "strokeWidth": 1.2, "opacity": 1},
        "encoding": {
         "x": {"field": "x", "type": "quantitative"},
         "y": {"field": "y", "type": "quantitative"},
         "shape": {"field": "s", "type": "nominal", "scale": {"domain": ["mouse cortical 2D", "Neurospheroids", "1 hr", "2 hrs"], "range": ["circle", "circle", "triangle-up", "square"]}, "legend": {"labelExpr": "datum.label == 'mouse cortical 2D' ? ['mouse cortical', '2D', ''] : datum.label"}},
         "fill": {"field": "s", "type": "nominal", "scale": {"domain": ["mouse cortical 2D", "Neurospheroids", "1 hr", "2 hrs"], "range": ["#f04b2b", "#1f2ec8", "#1f2ec8", "transparent"]}, "legend": {"labelExpr": "datum.label == 'mouse cortical 2D' ? ['mouse cortical', '2D', ''] : datum.label"}},
         "stroke": {"field": "s", "type": "nominal", "scale": {"domain": ["mouse cortical 2D", "Neurospheroids", "1 hr", "2 hrs"], "range": ["#d8401f", "#1f2ec8", "#1f2ec8", "#3340e0"]}, "legend": {"labelExpr": "datum.label == 'mouse cortical 2D' ? ['mouse cortical', '2D', ''] : datum.label"}}
        }
       },
       {
        "transform": [{"aggregate": [{"op": "count", "as": "n"}], "groupby": ["c"]}],
        "mark": {"type": "rect", "fill": "#f2f2f2", "stroke": "#d6d6d6", "strokeWidth": 1},
        "encoding": {"x": {"datum": 0.0015, "type": "quantitative"}, "x2": {"datum": 565}, "y": {"datum": 194, "type": "quantitative"}, "y2": {"datum": 226.5}}
       },
       {
        "transform": [{"aggregate": [{"op": "count", "as": "n"}], "groupby": ["c"]}],
        "mark": {"type": "text", "font": "Inter", "fontWeight": 700, "fontSize": 14, "color": "#555", "baseline": "middle", "lineHeight": 16},
        "encoding": {"x": {"datum": 0.92, "type": "quantitative"}, "y": {"datum": 210, "type": "quantitative"}, "text": {"field": "c", "type": "nominal"}}
       }
      ]
     }
    }]
   }]
  },
  {
   "title": {"text": "Ca²⁺ Spike Amplitude – FAERS Negative Compounds", "font": "Open Sans", "fontSize": 22, "fontWeight": "bold", "color": "#333", "anchor": "middle", "offset": 14},
   "vconcat": [{
    "title": {"text": "% of Time-Matched Vehicle Control", "orient": "left", "anchor": "middle", "font": "Open Sans", "fontSize": 17, "fontWeight": "normal", "color": "#555", "offset": 14, "dx": -48},
    "vconcat": [{
     "data": {"name": "amp"},
     "title": {"text": "Concentration [µM]", "orient": "bottom", "anchor": "middle", "offset": -22, "dx": 47, "font": "Open Sans", "fontSize": 16.5, "fontWeight": "normal", "color": "#444"},
     "columns": 3,
     "spacing": 0,
     "bounds": "flush",
     "resolve": {"axis": {"x": "independent"}},
     "facet": {"field": "c", "type": "nominal", "header": null},
     "spec": {
      "width": 184.5,
      "height": 155,
      "layer": [
       {
        "transform": [{"aggregate": [{"op": "count", "as": "n"}], "groupby": ["c"]}],
        "mark": {"type": "rule", "strokeDash": [2, 2], "color": "#b5b5b5", "strokeWidth": 1},
        "encoding": {"y": {"datum": 100, "type": "quantitative"}}
       },
       {
        "mark": {"type": "errorbar", "ticks": true, "size": 8, "thickness": 1},
        "encoding": {
         "x": {"field": "x", "type": "quantitative", "scale": {"type": "log", "domain": [0.002, 590], "nice": false}, "axis": {"values": [0.01, 0.1, 1, 10, 100], "format": "~g", "title": null, "grid": true, "ticks": false, "domain": false}},
         "y": {"field": "lo", "type": "quantitative", "scale": {"domain": [-13.6, 238], "nice": false, "zero": false}, "axis": {"values": [0, 50, 100, 150, 200], "title": null, "grid": false, "ticks": false, "domain": false, "labelFont": "Roboto", "labelFontWeight": "normal", "labelFontSize": 13}},
         "y2": {"field": "hi"},
         "color": {"field": "s", "type": "nominal", "legend": null}
        }
       },
       {
        "mark": {"type": "line", "strokeWidth": 1.2},
        "encoding": {
         "x": {"field": "x", "type": "quantitative"},
         "y": {"field": "y", "type": "quantitative"},
         "color": {"field": "s", "type": "nominal", "legend": null}
        }
       },
       {
        "mark": {"type": "point", "filled": true, "size": 80, "strokeWidth": 1.2, "opacity": 1},
        "encoding": {
         "x": {"field": "x", "type": "quantitative"},
         "y": {"field": "y", "type": "quantitative"},
         "shape": {"field": "s", "type": "nominal", "legend": {"labelExpr": "datum.label == 'mouse cortical 2D' ? ['mouse cortical', '2D', ''] : datum.label"}},
         "fill": {"field": "s", "type": "nominal", "legend": {"labelExpr": "datum.label == 'mouse cortical 2D' ? ['mouse cortical', '2D', ''] : datum.label"}},
         "stroke": {"field": "s", "type": "nominal", "legend": {"labelExpr": "datum.label == 'mouse cortical 2D' ? ['mouse cortical', '2D', ''] : datum.label"}}
        }
       },
       {
        "transform": [{"aggregate": [{"op": "count", "as": "n"}], "groupby": ["c"]}],
        "mark": {"type": "rect", "fill": "#f2f2f2", "stroke": "#d6d6d6", "strokeWidth": 1},
        "encoding": {"x": {"datum": 0.002, "type": "quantitative"}, "x2": {"datum": 590}, "y": {"datum": 203, "type": "quantitative"}, "y2": {"datum": 238}}
       },
       {
        "transform": [{"aggregate": [{"op": "count", "as": "n"}], "groupby": ["c"]}],
        "mark": {"type": "text", "font": "Inter", "fontWeight": 600, "fontSize": 14, "color": "#555", "baseline": "middle", "lineHeight": 16},
        "encoding": {"x": {"datum": 1.09, "type": "quantitative"}, "y": {"datum": 220.5, "type": "quantitative"}, "text": {"field": "c", "type": "nominal"}}
       }
      ]
     }
    }]
   }]
  }
 ]
}
